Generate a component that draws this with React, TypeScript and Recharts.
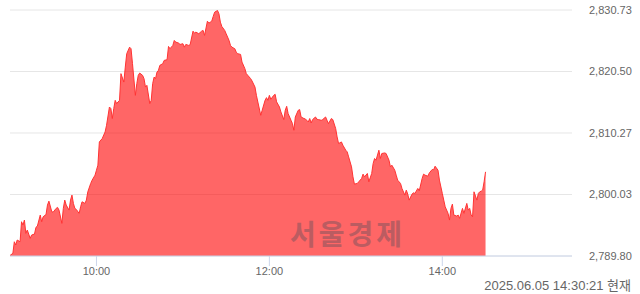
import React from "react";
import { AreaChart, Area, XAxis, YAxis, CartesianGrid } from "recharts";

// minutes since market open (09:00)
const minutes = [
  0, 2, 3, 4, 5, 7, 8, 9, 10, 11,
  12, 14, 15, 17, 18, 19, 21, 22, 23, 25,
  26, 27, 29, 30, 32, 33, 34, 36, 37, 38,
  39, 41, 42, 43, 44, 45, 46, 48, 49, 50,
  52, 53, 54, 56, 57, 59, 60, 61, 62, 64,
  66, 67, 69, 70, 71, 72, 73, 74, 76, 77,
  79, 80, 81, 83, 84, 85, 87, 88, 89, 90,
  92, 93, 94, 95, 97, 98, 99, 100, 101, 102,
  103, 104, 106, 107, 109, 110, 111, 113, 114, 115,
  117, 118, 120, 121, 122, 124, 125, 127, 128, 129,
  131, 133, 134, 135, 137, 138, 140, 141, 142, 144,
  145, 146, 147, 149, 150, 152, 153, 154, 156, 157,
  158, 160, 161, 163, 164, 165, 167, 168, 170, 171,
  172, 174, 175, 177, 178, 179, 180, 181, 183, 184,
  185, 187, 188, 190, 191, 192, 193, 195, 196, 197,
  198, 200, 201, 202, 204, 205, 207, 208, 209, 210,
  212, 213, 214, 216, 217, 219, 220, 221, 223, 224,
  226, 227, 228, 230, 231, 233, 234, 235, 237, 238,
  239, 241, 242, 244, 245, 246, 248, 249, 251, 252,
  253, 254, 256, 257, 258, 260, 261, 263, 264, 265,
  267, 268, 269, 271, 272, 274, 275, 276, 277, 279,
  280, 281, 283, 284, 286, 287, 288, 290, 291, 293,
  294, 295, 297, 298, 300, 301, 302, 304, 305, 306,
  307, 308, 310, 311, 312, 314, 315, 317, 318, 319,
  320, 321, 322, 324, 325, 326, 327, 328, 329, 330,
];

const values = [
  2789.88, 2790.25, 2792.17, 2791.63, 2792.46, 2792.17, 2795.5, 2794.95, 2795.78, 2793.57,
  2794.12, 2792.74, 2793.29, 2793.45, 2794.57, 2794.78, 2796.61, 2795.5, 2796.33, 2796.7,
  2798.27, 2798.93, 2797.16, 2797.1, 2797.72, 2797.89, 2797.44, 2795.23, 2797.72, 2799.1,
  2798.27, 2797.44, 2799.1, 2799.93, 2798.55, 2797.72, 2797.55, 2796.89, 2797.99, 2798.82,
  2798.55, 2799.1, 2800.48, 2801.87, 2802.42, 2803.25, 2804.08, 2804.91, 2808.78, 2809.34,
  2810.44, 2811.55, 2814.59, 2814.33, 2812.67, 2814.33, 2815.7, 2815.16, 2815.7, 2820.14,
  2818.74, 2821.23, 2823.46, 2824.55, 2824.29, 2821.8, 2816.53, 2818.48, 2819.86, 2820.24,
  2819.86, 2819.31, 2817.91, 2818.19, 2815.16, 2815.7, 2818.48, 2819.57, 2819.31, 2820.4,
  2820.69, 2821.52, 2821.8, 2822.35, 2822.46, 2824.67, 2824.29, 2824.84, 2825.67, 2825.39,
  2825.22, 2825.0, 2825.12, 2824.55, 2825.0, 2824.84, 2824.95, 2827.21, 2826.88, 2827.05,
  2826.78, 2827.21, 2827.33, 2826.5, 2828.87, 2828.54, 2828.87, 2829.65, 2830.37, 2830.65,
  2830.1, 2828.71, 2827.99, 2827.33, 2826.78, 2825.67, 2824.84, 2824.55, 2824.29, 2823.72,
  2823.46, 2823.34, 2822.06, 2820.97, 2820.14, 2819.86, 2819.31, 2818.91, 2817.91, 2816.53,
  2815.42, 2813.21, 2814.04, 2815.7, 2816.15, 2815.7, 2816.53, 2815.87, 2816.53, 2816.7,
  2815.45, 2814.59, 2813.76, 2812.5, 2814.04, 2814.71, 2813.5, 2812.38, 2811.83, 2810.72,
  2812.93, 2814.04, 2814.16, 2812.93, 2812.67, 2812.6, 2812.1, 2812.67, 2811.93, 2812.5,
  2812.93, 2812.55, 2812.5, 2812.38, 2812.5, 2812.93, 2812.38, 2811.83, 2812.67, 2812.5,
  2811.0, 2809.61, 2808.51, 2808.78, 2808.23, 2807.4, 2807.12, 2806.29, 2804.63, 2802.97,
  2801.76, 2801.87, 2802.14, 2802.7, 2803.42, 2802.97, 2803.53, 2802.14, 2803.53, 2805.19,
  2806.02, 2805.74, 2807.4, 2806.02, 2806.85, 2806.95, 2806.85, 2805.74, 2804.63, 2804.91,
  2804.08, 2803.25, 2802.42, 2801.87, 2801.04, 2799.93, 2800.76, 2800.1, 2799.1, 2800.1,
  2800.31, 2800.21, 2801.04, 2800.64, 2802.7, 2803.42, 2803.25, 2803.08, 2803.63, 2804.2,
  2804.15, 2804.74, 2804.08, 2802.42, 2800.21, 2799.1, 2797.99, 2796.89, 2795.78, 2797.72,
  2798.43, 2796.61, 2796.44, 2796.61, 2796.06, 2797.72, 2796.89, 2798.55, 2797.44, 2797.72,
  2796.61, 2796.33, 2800.48, 2799.1, 2800.21, 2800.48, 2800.59, 2800.76, 2802.14, 2803.8,
];

const yTicks = [2789.8, 2800.03, 2810.27, 2820.5, 2830.73];
const xTicks = [60, 180, 300];
const xTickLabels = ["10:00", "12:00", "14:00"];
const sessionEnd = 390;
const stampText = "2025.06.05 14:30:21 현재";
const watermarkText = "서울경제";

const data = minutes.map((m, i) => ({ m, v: values[i] }));

const tickFont = {
  fill: "#666666",
  fontSize: 11,
  fontFamily: "'Liberation Sans', Arial, sans-serif",
};

export default function App() {
  return (
    <div
      style={{
        position: "absolute",
        left: 0,
        top: 0,
        width: 640,
        height: 294,
        background: "#ffffff",
        overflow: "hidden",
      }}
    >
      <AreaChart
        width={640}
        height={294}
        data={data}
        margin={{ top: 10, right: 0, bottom: 0, left: 10 }}
      >
        <CartesianGrid vertical={false} stroke="#e6e6e6" />
        <XAxis
          type="number"
          dataKey="m"
          domain={[0, sessionEnd]}
          ticks={xTicks}
          tickFormatter={(t: number) => xTickLabels[xTicks.indexOf(t)]}
          height={38}
          stroke="#ccd6eb"
          tickSize={10}
          tickMargin={1}
          tick={tickFont}
          allowDataOverflow
        />
        <YAxis
          orientation="right"
          domain={[yTicks[0], yTicks[yTicks.length - 1]]}
          ticks={yTicks}
          width={68}
          axisLine={false}
          tickLine={false}
          tickSize={0}
          tickMargin={17}
          tick={tickFont}
          allowDataOverflow
          tickFormatter={(v: number) =>
            v.toLocaleString("en-US", {
              minimumFractionDigits: 2,
              maximumFractionDigits: 2,
            })
          }
        />
        <Area
          type="linear"
          dataKey="v"
          stroke="#ff3333"
          strokeWidth={1}
          fill="#ff0000"
          fillOpacity={0.6}
          dot={false}
          activeDot={false}
          isAnimationActive={false}
        />
      </AreaChart>
      <div
        style={{
          position: "absolute",
          left: 290,
          top: 219,
          fontSize: 28,
          lineHeight: "28px",
          letterSpacing: 3,
          fontWeight: 700,
          fontFamily: "'Noto Sans CJK KR', sans-serif",
          color: "#bb5c61",
          whiteSpace: "nowrap",
          pointerEvents: "none",
        }}
      >
        {watermarkText}
      </div>
      <div
        style={{
          position: "absolute",
          right: 9,
          top: 278,
          fontSize: 13,
          lineHeight: "15px",
          fontFamily: "'Liberation Sans', 'Noto Sans CJK KR', sans-serif",
          color: "#666666",
          whiteSpace: "nowrap",
        }}
      >
        {stampText}
      </div>
    </div>
  );
}
